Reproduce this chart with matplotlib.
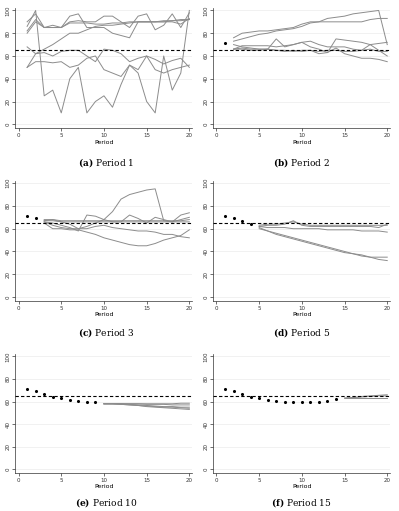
import numpy as np
import matplotlib.pyplot as plt

plt.rcParams['mathtext.fontset'] = 'dejavuserif'

# Datos: precios por periodo (cada panel empieza en un periodo distinto)
periods = np.arange(1, 21)

# promedio observado antes del periodo de pronostico (puntos negros)
observed = [71, 69, 66.5, 64, 63, 61.5, 60.5, 60, 59.5, 59.5, 59.5, 60, 60.5, 62]

# Panel (a): Period 1
p1_lines = [
    [86, 100, 25, 30, 10, 40, 50, 10, 20, 25, 15, 35, 52, 45, 20, 10, 60, 30, 45, 100],
    [90, 97, 85, 85, 85, 95, 97, 85, 85, 85, 80, 78, 76, 90, 90, 90, 90, 90, 88, 93],
    [82, 92, 85, 87, 85, 90, 91, 90, 90, 95, 95, 90, 85, 95, 97, 83, 87, 97, 85, 98],
    [80, 90, 85, 85, 85, 89, 89, 89, 88, 88, 89, 89, 90, 90, 90, 90, 90, 91, 91, 92],
    [50, 62, 66, 70, 75, 80, 80, 83, 86, 87, 87, 88, 89, 90, 90, 90, 91, 91, 92, 92],
    [68, 62, 63, 60, 64, 65, 65, 60, 55, 66, 65, 62, 55, 58, 60, 57, 53, 56, 58, 50],
    [50, 55, 55, 54, 55, 50, 52, 58, 60, 48, 45, 42, 52, 48, 60, 48, 45, 48, 50, 52],
]

# Panel (b): Period 2
p2_lines = [
    [76, 80, 81, 82, 82, 83, 84, 85, 88, 90, 90, 90, 90, 90, 90, 90, 92, 93, 93],
    [73, 75, 77, 79, 80, 82, 83, 84, 86, 89, 90, 93, 94, 95, 97, 98, 99, 100, 70],
    [70, 68, 67, 66, 66, 75, 68, 70, 72, 68, 66, 63, 75, 74, 73, 72, 70, 71, 72],
    [66, 69, 69, 69, 69, 68, 69, 70, 72, 73, 70, 68, 68, 68, 66, 65, 70, 65, 60],
    [66, 67, 66, 66, 66, 65, 64, 65, 64, 65, 62, 63, 67, 62, 60, 58, 58, 57, 55],
    [66, 66, 65, 65, 66, 65, 65, 64, 65, 65, 64, 65, 65, 64, 64, 65, 66, 64, 64],
]

# Panel (c): Period 3
p3_lines = [
    [67, 68, 66, 64, 60, 62, 65, 68, 75, 86, 90, 92, 94, 95, 67, 66, 68, 70],
    [66, 65, 63, 61, 58, 72, 71, 68, 66, 66, 72, 69, 65, 70, 68, 66, 72, 74],
    [67, 67, 66, 66, 66, 66, 66, 66, 66, 66, 66, 66, 66, 66, 66, 66, 66, 66],
    [68, 68, 67, 67, 67, 67, 67, 67, 67, 67, 67, 67, 67, 67, 67, 67, 67, 68],
    [66, 63, 61, 60, 60, 60, 62, 63, 61, 60, 59, 58, 58, 57, 55, 55, 53, 52],
    [65, 60, 60, 59, 59, 57, 55, 52, 50, 48, 46, 45, 45, 47, 50, 52, 54, 59],
]

# Panel (d): Period 5
p5_lines = [
    [63, 64, 64, 65, 66, 64, 63, 63, 63, 63, 63, 63, 63, 63, 63, 63],
    [62, 63, 63, 64, 67, 63, 62, 62, 62, 62, 62, 62, 62, 62, 61, 64],
    [62, 61, 61, 61, 60, 60, 60, 60, 59, 59, 59, 59, 58, 58, 58, 57],
    [61, 58, 55, 53, 51, 49, 47, 45, 43, 41, 39, 38, 36, 35, 35, 35],
    [60, 58, 56, 54, 52, 50, 48, 46, 44, 42, 40, 38, 37, 35, 33, 32],
]

# Panel (e): Period 10
p10_lines = [
    [58, 58, 58, 58, 58, 58, 58, 58, 58, 58.5, 58.5],
    [58, 58, 58, 58, 58, 57.5, 57.5, 57.5, 57, 57, 57],
    [58, 58, 58, 57.5, 57, 56.5, 56, 55.5, 55.5, 55, 55],
    [58, 58, 57.5, 57, 56.5, 56, 55.5, 55, 55, 54.5, 54],
    [58, 58, 57.5, 57, 56.5, 55.5, 55, 54.5, 54, 53.5, 53],
]

# Panel (f): Period 15
p15_lines = [
    [63, 63.5, 64.5, 65, 65.5, 66],
    [63, 63.5, 64, 64.5, 65, 65],
    [63, 63, 63, 63, 63, 63],
]

panels = [
    ("(a)", "Period 1", 1, p1_lines),
    ("(b)", "Period 2", 2, p2_lines),
    ("(c)", "Period 3", 3, p3_lines),
    ("(d)", "Period 5", 5, p5_lines),
    ("(e)", "Period 10", 10, p10_lines),
    ("(f)", "Period 15", 15, p15_lines),
]

fig = plt.figure(figsize=(3.99, 5.11), dpi=100)

# posiciones de los ejes [left, bottom, width, height]
lefts = [0.038, 0.534]
rows = [(0.749, 0.235), (0.411, 0.235), (0.074, 0.233)]
caption_y = [0.681, 0.349, 0.016]

for k, (letter, name, start, lines) in enumerate(panels):
    r, c = divmod(k, 2)
    ax = fig.add_axes([lefts[c], rows[r][0], 0.444, rows[r][1]])
    for y in range(0, 101, 20):
        ax.axhline(y, color='#ececec', lw=0.5, zorder=0)
    for vals in lines:
        ax.plot(periods[start - 1:], vals, color='#8c8c8c', lw=0.7, zorder=2)
    if start > 1:
        ax.scatter(periods[:start - 1], observed[:start - 1], s=5, color='black',
                   linewidths=0, zorder=3)
    ax.axhline(65, color='black', lw=0.8, ls=(0, (3, 2)), zorder=4)

    ax.set_xlim(-0.4, 20.35)
    ax.set_ylim(-3.5, 102)
    ax.set_xticks([0, 5, 10, 15, 20])
    ax.set_yticks([0, 20, 40, 60, 80, 100])
    ax.tick_params(labelsize=4, length=2, width=0.5, pad=1.5, colors='#333333')
    for lab in ax.get_yticklabels():
        lab.set_rotation(90)
        lab.set_va('center')
    ax.set_xlabel('Period', fontsize=4.5, labelpad=1)
    for s in ['top', 'right']:
        ax.spines[s].set_visible(False)
    for s in ['left', 'bottom']:
        ax.spines[s].set_linewidth(0.5)
        ax.spines[s].set_color('#333333')

    cx = lefts[c] + 0.444 / 2 + (0.006 if c == 0 else 0.0)
    fig.text(cx, caption_y[r], f"$\\mathbf{{{letter}}}$ {name}", ha='center', va='center',
             fontsize=6.5, family='DejaVu Serif')

plt.savefig('out.png', dpi=100)
